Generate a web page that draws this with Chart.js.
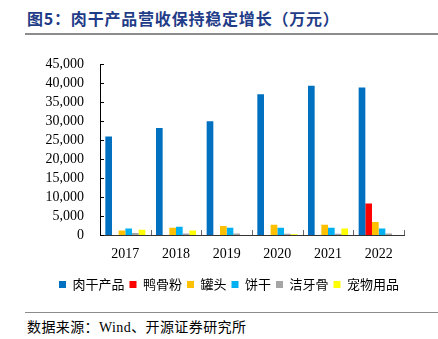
<!DOCTYPE html>
<html><head><meta charset="utf-8">
<script src="https://cdn.jsdelivr.net/npm/chart.js@4/dist/chart.umd.min.js"></script>
<style>
html,body{margin:0;padding:0;background:#fff;width:438px;height:339px;overflow:hidden;position:relative;}
#title{position:absolute;left:27px;top:6px;font-family:"Noto Sans CJK SC";font-weight:bold;font-size:16px;color:#1F3C88;letter-spacing:0.8px;white-space:nowrap;}
#line1{position:absolute;left:25px;top:33px;width:413px;height:2px;background:#8c8c8c;}
#line2{position:absolute;left:25px;top:312px;width:413px;height:1px;background:#8c8c8c;}
#src{position:absolute;left:27px;top:316px;font-family:"Noto Sans CJK SC","Liberation Serif";font-size:14px;letter-spacing:0.4px;color:#000;white-space:nowrap;}
#wrap{position:absolute;left:0;top:40px;width:438px;height:265px;}
</style></head>
<body>
<div id="title">图5：肉干产品营收保持稳定增长（万元）</div>
<div id="line1"></div>
<div id="wrap"><canvas id="c"></canvas></div>
<div id="line2"></div>
<div id="src">数据来源：<span style="font-family:'Liberation Serif'">Wind</span>、开源证券研究所</div>
<script>
const years = ["2017","2018","2019","2020","2021","2022"];
const seriesNames = ["肉干产品","鸭骨粉","罐头","饼干","洁牙骨","宠物用品"];
const jerky   = [26000, 28200, 30000, 37100, 39400, 38900];
const duckBone = [null, null, null, null, null, 8300];
const canned  = [1200, 1900, 2400, 2700, 2700, 3400];
const biscuit = [1700, 2200, 1900, 1900, 1900, 1700];
const dental  = [500, 400, 400, 300, 300, 400];
const petSupp = [1400, 1200, null, 200, 1700, null];
const yTicks = [0,5000,10000,15000,20000,25000,30000,35000,40000,45000];
const colors = ["#0070C0","#FF0000","#FFC000","#00B0F0","#A5A5A5","#FFFF00"];
const allData = [jerky, duckBone, canned, biscuit, dental, petSupp];

const innerTicks = {
  id:'innerTicks',
  beforeDraw(chart){
    // shift the legend box right so it is centred like the original
    const lg = chart.legend;
    if (lg && !lg._shifted){ lg.left += 27; lg.right += 27; lg._shifted = true; }
  },
  afterDraw(chart){
    const ctx = chart.ctx, y = chart.scales.y, x = chart.scales.x, a = chart.chartArea;
    ctx.save();
    ctx.strokeStyle = '#000'; ctx.lineWidth = 1;
    yTicks.forEach(v=>{
      const py = Math.round(y.getPixelForValue(v))+0.5;
      ctx.beginPath(); ctx.moveTo(a.left, py); ctx.lineTo(a.left+4, py); ctx.stroke();
    });
    ctx.strokeStyle = '#666';
    const n = years.length;
    for(let i=1;i<=n;i++){
      const px = Math.round((x.getPixelForValue(i-1)+ (i<n? x.getPixelForValue(i): 2*x.getPixelForValue(i-1)-x.getPixelForValue(i-2)))/2)+0.5;
      ctx.beginPath(); ctx.moveTo(px, a.bottom); ctx.lineTo(px, a.bottom-5); ctx.stroke();
    }
    ctx.restore();
  }
};

new Chart(document.getElementById('c'), {
  type:'bar',
  data:{
    labels: years,
    datasets: seriesNames.map((n,i)=>({label:n, data: allData[i], backgroundColor: colors[i], borderWidth:0, categoryPercentage:0.79, barPercentage:1}))
  },
  options:{
    responsive:true, maintainAspectRatio:false, animation:false,
    devicePixelRatio:1,
    layout:{padding:{left:0,right:34,top:12,bottom:4}},
    plugins:{
      tooltip:{enabled:false},
      legend:{position:'bottom', labels:{boxWidth:7, boxHeight:7, padding:5, color:'#000', font:{family:'"Noto Sans CJK SC"', size:13}}}
    },
    scales:{
      x:{afterFit(s){s.height=38;}, grid:{display:false, drawTicks:false}, border:{display:true,color:'#333',width:1},
         ticks:{padding:11, color:'#000', font:{family:'"Liberation Serif"', size:14}}},
      y:{min:0,max:45000, afterFit(s){s.width=100;}, grid:{display:false, drawTicks:false}, border:{display:true,color:'#000',width:1},
         ticks:{stepSize:5000, autoSkip:false, padding:16, color:'#000', font:{family:'"Liberation Serif"', size:14},
           callback:v=>v.toLocaleString('en-US')}}
    }
  },
  plugins:[innerTicks]
});
</script>
</body></html>
